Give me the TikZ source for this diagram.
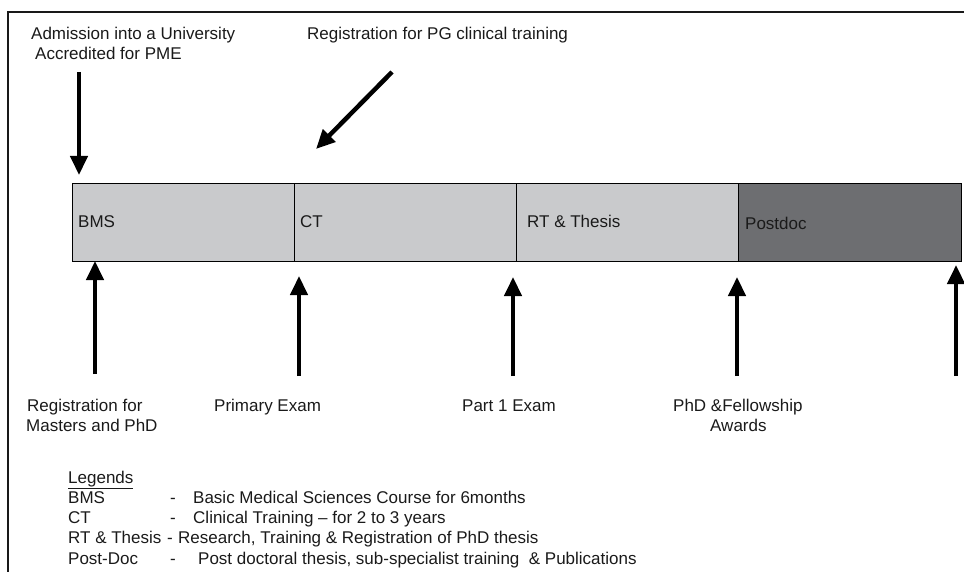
\documentclass[tikz,border=0pt]{standalone}
\usepackage{fontspec}
\setmainfont{Liberation Sans}
\usetikzlibrary{arrows.meta}
\definecolor{lightbar}{HTML}{C9CACC}
\definecolor{darkbar}{HTML}{6D6E71}
\definecolor{txt}{HTML}{1A1A1A}
\tikzset{
  seg/.style={draw=black, line width=1pt, minimum width=222pt, minimum height=78pt, inner sep=0pt, anchor=north west},
  lbl/.style={anchor=base west, inner sep=0pt, text=txt, font=\fontsize{17}{20}\selectfont},
  dashlbl/.style={anchor=base, inner sep=0pt, text=txt, font=\fontsize{17}{20}\selectfont},
  bigarrow/.style={line width=4.5pt, -{Triangle[width=17pt,length=19pt]}},
  frame/.style={line width=1.2pt, draw=black!90}
}
\begin{document}
\begin{tikzpicture}[x=1pt,y=-1pt]
\useasboundingbox (0,0) rectangle (964,572);
% frame
\coordinate (fl) at (8,572);
\coordinate (fc) at (8,12);
\coordinate (fr) at (964,12);
\draw[frame] (fl) -- (fc) -- (fr);
% bar segments
\node[seg, fill=lightbar] (bms) at (72,183) {};
\node[seg, fill=lightbar] (ct) at (294,183) {};
\node[seg, fill=lightbar] (rt) at (516,183) {};
\node[seg, fill=darkbar, minimum width=223pt] (pd) at (738,183) {};
\node[lbl] (bmsl) at (78,228) {BMS};
\node[lbl] (ctl) at (300,228) {CT};
\node[lbl] (rtl) at (527,228) {RT \& Thesis};
\node[lbl] (pdl) at (745,230) {Postdoc};
% top texts
\node[lbl] (adm1) at (31,40) {Admission into a University};
\node[lbl] (adm2) at (35,60) {Accredited for PME};
\node[lbl] (pgreg) at (307,40) {Registration for PG clinical training};
% top arrows
\coordinate (a1s) at (79,72);
\coordinate (a1e) at (79,175);
\draw[bigarrow] (a1s) -- (a1e);
\coordinate (a2s) at (392,72);
\coordinate (a2e) at (316,149);
\draw[bigarrow] (a2s) -- (a2e);
% bottom arrows
\coordinate (b1s) at (95,374);
\coordinate (b1e) at (95,261);
\coordinate (b2s) at (299,376);
\coordinate (b2e) at (299,276);
\coordinate (b3s) at (513,376);
\coordinate (b3e) at (513,277);
\coordinate (b4s) at (737,376);
\coordinate (b4e) at (737,277);
\coordinate (b5s) at (956,376);
\coordinate (b5e) at (956,265);
\draw[bigarrow] (b1s) -- (b1e);
\draw[bigarrow] (b2s) -- (b2e);
\draw[bigarrow] (b3s) -- (b3e);
\draw[bigarrow] (b4s) -- (b4e);
\draw[bigarrow] (b5s) -- (b5e);
% bottom labels
\node[lbl] (r1) at (27,411) {Registration for};
\node[lbl] (r2) at (26,431) {Masters and PhD};
\node[lbl] (pe) at (214,411) {Primary Exam};
\node[lbl] (p1) at (462,411) {Part 1 Exam};
\node[lbl] (phd1) at (673,411) {PhD \&Fellowship};
\node[lbl] (phd2) at (710,431) {Awards};
% legends
\node[lbl] (leg) at (68,483) {\underline{Legends}};
\node[lbl] (l1a) at (68,503) {BMS};
\node[dashlbl] (l1b) at (173,503) {-};
\node[lbl] (l1c) at (193,503) {Basic Medical Sciences Course for 6months};
\node[lbl] (l2a) at (68,523) {CT};
\node[dashlbl] (l2b) at (173,523) {-};
\node[lbl] (l2c) at (193,523) {Clinical Training -- for 2 to 3 years};
\node[lbl] (l3a) at (68,543) {RT \& Thesis};
\node[dashlbl] (l3b) at (170,543) {-};
\node[lbl] (l3c) at (178,543) {Research, Training \& Registration of PhD thesis};
\node[lbl] (l4a) at (68,564) {Post-Doc};
\node[dashlbl] (l4b) at (173,564) {-};
\node[lbl] (l4c) at (198,564) {Post doctoral thesis, sub-specialist training\ \ \& Publications};
\end{tikzpicture}
\end{document}
